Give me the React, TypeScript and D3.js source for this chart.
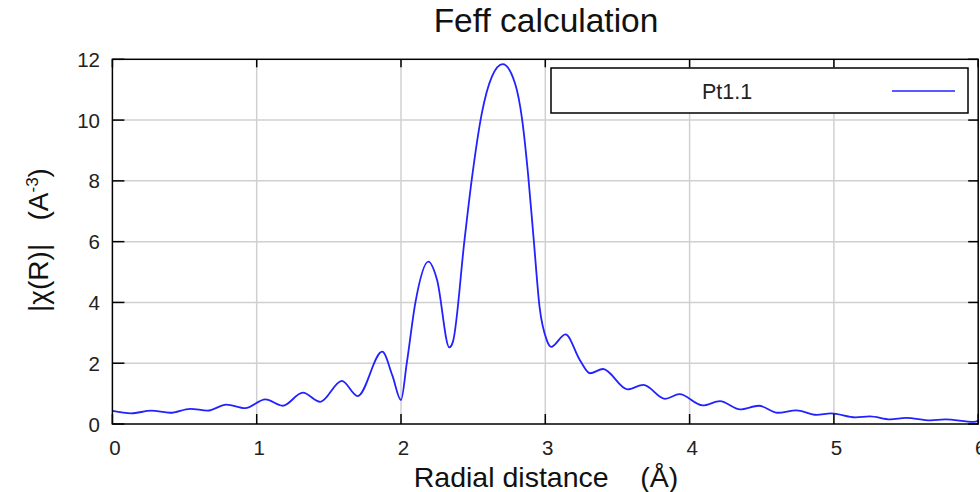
import React from "react";
import * as d3 from "d3";

const rValues = [0.0, 0.13, 0.27, 0.40, 0.54, 0.66, 0.79, 0.92, 1.06, 1.18, 1.32, 1.44, 1.59, 1.70, 1.87, 1.94, 2.0, 2.04, 2.10, 2.19, 2.25, 2.335, 2.36, 2.44, 2.49, 2.56, 2.63, 2.705, 2.79, 2.84, 2.88, 2.92, 2.96, 3.01, 3.04, 3.14, 3.24, 3.31, 3.40, 3.57, 3.68, 3.83, 3.93, 4.09, 4.21, 4.35, 4.48, 4.61, 4.74, 4.88, 4.98, 5.15, 5.25, 5.39, 5.50, 5.67, 5.77, 5.97, 6.0];
const chiValues = [0.43, 0.35, 0.44, 0.37, 0.50, 0.44, 0.64, 0.52, 0.81, 0.60, 1.03, 0.73, 1.42, 0.92, 2.38, 1.6, 0.79, 2.0, 4.0, 5.34, 4.74, 2.52, 2.71, 6.05, 8.03, 10.22, 11.43, 11.84, 11.21, 10.0, 8.25, 6.05, 3.86, 2.76, 2.54, 2.95, 2.1, 1.67, 1.81, 1.14, 1.29, 0.83, 0.98, 0.61, 0.75, 0.48, 0.60, 0.37, 0.45, 0.30, 0.35, 0.22, 0.25, 0.15, 0.20, 0.12, 0.15, 0.07, 0.1];
const xTicks = [0, 1, 2, 3, 4, 5, 6];
const yTicks = [0, 2, 4, 6, 8, 10, 12];
const seriesName = "Pt1.1";
const titleText = "Feff calculation";

const W = 980;
const H = 492;
const font = "'Liberation Sans', Arial, sans-serif";
const blue = "#2222ff";

export default function App() {
  const x = d3.scaleLinear().domain([0, 6]).range([112.4, 978.2]);
  const y = d3.scaleLinear().domain([0, 12]).range([424, 59.3]);
  const data = rValues.map((r, i) => [r, chiValues[i]] as [number, number]);
  const line = d3
    .line<[number, number]>()
    .x((d) => x(d[0]))
    .y((d) => y(d[1]))
    .curve(d3.curveMonotoneX);
  const [x0, x1] = x.range();
  const [y0, y1] = y.range();
  return (
    <svg
      width={W}
      height={H}
      style={{ position: "absolute", left: 0, top: 0, background: "#fff" }}
      fontFamily={font}
    >
      <rect x={0} y={0} width={W} height={H} fill="#fff" />
      {xTicks.slice(1, -1).map((t) => (
        <line key={"gx" + t} x1={x(t)} x2={x(t)} y1={y0} y2={y1} stroke="#d0d0d0" strokeWidth={1.5} />
      ))}
      {yTicks.slice(1, -1).map((t) => (
        <line key={"gy" + t} x1={x0} x2={x1} y1={y(t)} y2={y(t)} stroke="#d0d0d0" strokeWidth={1.5} />
      ))}
      <path d={line(data) || ""} fill="none" stroke={blue} strokeWidth={1.8} />
      <rect x={x0} y={y1} width={x1 - x0} height={y0 - y1} fill="none" stroke="#000" strokeWidth={1.5} />
      {xTicks.map((t) => (
        <g key={"tx" + t}>
          <line x1={x(t)} x2={x(t)} y1={y0} y2={y0 - 10} stroke="#000" strokeWidth={1.5} />
          <line x1={x(t)} x2={x(t)} y1={y1} y2={y1 + 8} stroke="#000" strokeWidth={1.5} />
          <text x={x(t) + 2.5} y={455} textAnchor="middle" fontSize={20.5} fill="#222">
            {t}
          </text>
        </g>
      ))}
      {yTicks.map((t) => (
        <g key={"ty" + t}>
          <line x1={x0} x2={x0 + 12} y1={y(t)} y2={y(t)} stroke="#000" strokeWidth={1.5} />
          <line x1={x1} x2={x1 - 10} y1={y(t)} y2={y(t)} stroke="#000" strokeWidth={1.5} />
          <text x={100} y={y(t) + 7.5} textAnchor="end" fontSize={20.5} fill="#222">
            {t}
          </text>
        </g>
      ))}
      <rect x={551} y={68} width={417} height={45} fill="#fff" stroke="#000" strokeWidth={1.5} />
      <text x={727} y={98.5} textAnchor="middle" fontSize={21.5} fill="#222">
        {seriesName}
      </text>
      <line x1={892} x2={955} y1={91} y2={91} stroke={blue} strokeWidth={1.5} />
      <text x={546} y={32} textAnchor="middle" fontSize={33.5} fill="#111">
        {titleText}
      </text>
      <text x={546} y={487} textAnchor="middle" fontSize={28.5} fill="#111" style={{ whiteSpace: "pre" }}>
        {"Radial distance    (Å)"}
      </text>
      <text
        transform="translate(48,240) rotate(-90)"
        textAnchor="middle"
        fontSize={28}
        fill="#111"
        style={{ whiteSpace: "pre" }}
      >
        {"|χ(R)|   (A"}
        <tspan fontSize={17} dy={-10}>
          -3
        </tspan>
        <tspan dy={10}>)</tspan>
      </text>
    </svg>
  );
}
